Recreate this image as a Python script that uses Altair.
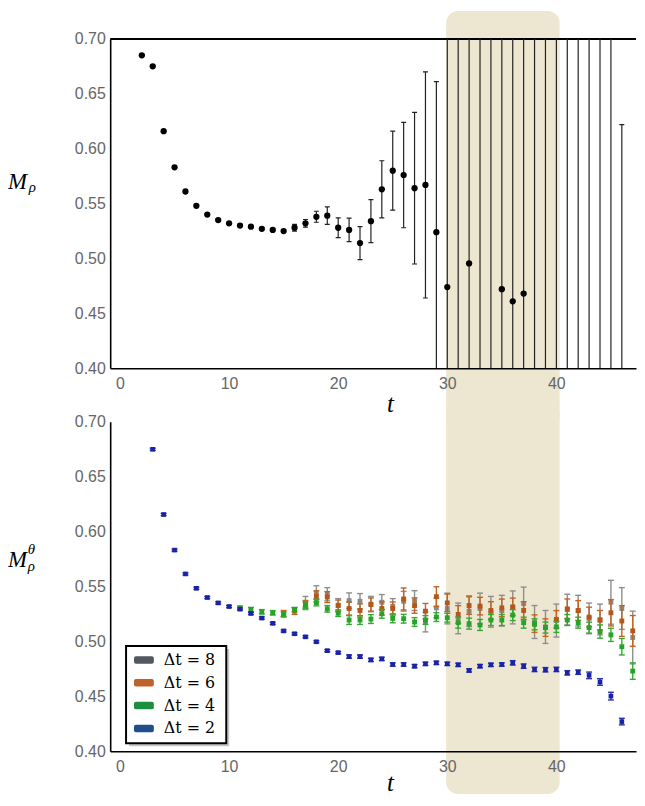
import altair as alt
import pandas as pd

# ---------------- data ----------------
# top panel: M_rho(t)
t_top = list(range(2, 47))
m_top = [0.685, 0.675, 0.616, 0.583, 0.561, 0.548, 0.540, 0.535, 0.532, 0.530,
         0.529, 0.527, 0.526, 0.525, 0.528, 0.532, 0.538, 0.539, 0.528, 0.526,
         0.514, 0.534, 0.563, 0.580, 0.576, 0.564, 0.567, 0.524, 0.474, 0.385,
         0.4955, 0.380, 0.375, 0.472, 0.461, 0.468, 0.370, 0.380, 0.370, 0.360,
         0.370, 0.360, 0.370, 0.370, 0.389]
e_top = [0.001] * 14 + [0.003, 0.0035, 0.005, 0.008, 0.009, 0.0107, 0.015, 0.0196,
                        0.026, 0.036, 0.048, 0.069, 0.103, 0.137, 0.30, 0.40,
                        0.30, 0.40, 0.40, 0.30, 0.30, 0.30] + [0.40] * 8 + [0.233]

# bottom panel: M_rho^theta(t) for several Delta t
t_dt2 = list(range(3, 47))
m_dt2 = [0.675, 0.6156, 0.5832, 0.5615, 0.5484, 0.540, 0.5351, 0.5318, 0.5294, 0.5255,
         0.5213, 0.5165, 0.5096, 0.507, 0.5042, 0.4997, 0.4916, 0.4898, 0.4862, 0.4862,
         0.4832, 0.4841, 0.479, 0.479, 0.4775, 0.4796, 0.4805, 0.4796, 0.4787, 0.4736,
         0.4775, 0.4787, 0.479, 0.4805, 0.4775, 0.4745, 0.4742, 0.4745, 0.4714, 0.472,
         0.4691, 0.4631, 0.4502, 0.427]
e_dt2 = [0.001] * 18 + [0.0015] * 15 + [0.002] * 7 + [0.003, 0.003, 0.0035, 0.003]

t_dt4 = list(range(11, 48))
m_dt4 = [0.5303, 0.529, 0.527, 0.5261, 0.5249, 0.529, 0.5329, 0.5354, 0.5297, 0.5258,
         0.5195, 0.5195, 0.5204, 0.5252, 0.521, 0.5207, 0.5177, 0.5195, 0.5222, 0.5216,
         0.5171, 0.5162, 0.515, 0.5195, 0.5195, 0.524, 0.5171, 0.5156, 0.5126, 0.5132,
         0.5195, 0.5171, 0.5126, 0.509, 0.506, 0.4952, 0.473]
e_dt4 = [0.002] * 6 + [0.003] * 4 + [0.004] * 10 + [0.005] * 13 + [0.006, 0.006, 0.0075, 0.0075]

t_dt6 = list(range(15, 48))
m_dt6 = [0.5252, 0.5276, 0.5343, 0.5411, 0.5404, 0.5327, 0.530, 0.5282, 0.5336, 0.530,
         0.530, 0.5387, 0.5327, 0.5276, 0.5408, 0.5351, 0.5246, 0.5327, 0.5322, 0.5282,
         0.5306, 0.5315, 0.5282, 0.5162, 0.5126, 0.5201, 0.5297, 0.5282, 0.5222, 0.5192,
         0.5261, 0.5186, 0.5096]
e_dt6 = [0.003] * 3 + [0.005] * 3 + [0.006] * 5 + [0.010, 0.007, 0.007, 0.009] + \
        [0.008] * 11 + [0.009] * 4 + [0.012, 0.014, 0.014]

t_dt8 = list(range(17, 48))
m_dt8 = [0.535, 0.5447, 0.543, 0.533, 0.5372, 0.5366, 0.534, 0.5357, 0.532, 0.5366,
         0.5372, 0.5177, 0.5306, 0.530, 0.521, 0.5276, 0.530, 0.527, 0.528, 0.531,
         0.5345, 0.5177, 0.5132, 0.519, 0.529, 0.528, 0.521, 0.520, 0.5357, 0.530,
         0.5036]
e_dt8 = [0.006] * 4 + [0.007] * 5 + [0.009] * 4 + [0.014] * 6 + [0.015] * 5 + \
        [0.014] * 4 + [0.020, 0.019, 0.024]

series_labels = ["Δt = 8", "Δt = 6", "Δt = 4", "Δt = 2"]
series_t = [t_dt8, t_dt6, t_dt4, t_dt2]
series_m = [m_dt8, m_dt6, m_dt4, m_dt2]
series_e = [e_dt8, e_dt6, e_dt4, e_dt2]
marker_colors = ["#8a8a8a", "#b5561a", "#27a327", "#1a22a8"]
bar_colors = ["#8e8e8e", "#c2651f", "#33aa33", "#2a32b0"]
legend_colors = ["#53575f", "#c0602a", "#1e8f3e", "#1f4f8b"]

band_t = [29.9, 40.3]
x_ticks = [0, 10, 20, 30, 40]
y_ticks = [0.40, 0.45, 0.50, 0.55, 0.60, 0.65, 0.70]
x_domain = [-0.9, 47.3]
y_domain = [0.40, 0.70]

# ---------------- styling ----------------
W, H = 530, 332
GAP = 54
BAND = "#ede6d0"
LABEL_FONT = "Liberation Sans"
SERIF = "Liberation Serif"
PATH = ("M-0.8,-0.38L0.8,-0.38Q1,-0.38 1,-0.18L1,0.18Q1,0.38 0.8,0.38"
        "L-0.8,0.38Q-1,0.38 -1,0.18L-1,-0.18Q-1,-0.38 -0.8,-0.38Z")

xs = alt.Scale(domain=x_domain, nice=False, zero=False)
ys = alt.Scale(domain=y_domain, nice=False, zero=False)


def x_axis(title_y):
    return alt.Axis(values=x_ticks, title="t", titleFont=SERIF, titleFontStyle="italic",
                    titleFontSize=25, titleFontWeight="normal", titleColor="black",
                    titleX=282, titleY=title_y, titleBaseline="alphabetic", titleAlign="center",
                    labelFont=LABEL_FONT, labelFontSize=16, labelColor="#666",
                    labelPadding=7, ticks=False, grid=False, domainColor="black",
                    domainWidth=1.6, zindex=1, labelFlush=False)


y_axis = alt.Axis(values=y_ticks, format=".2f", title=None, labelFont=LABEL_FONT,
                  labelFontSize=16, labelColor="#666", labelPadding=5, ticks=False,
                  grid=False, domainColor="black", domainWidth=1.6, zindex=1)


def err_df(ts, ms, es):
    return pd.DataFrame({"t": ts, "m": ms,
                         "lo": [m - e for m, e in zip(ms, es)],
                         "hi": [m + e for m, e in zip(ms, es)]})


def text_layer(txt, x, y, size, style="italic"):
    return alt.Chart(pd.DataFrame({"txt": [txt]})).mark_text(
        font=SERIF, fontSize=size, fontStyle=style, align="left",
        baseline="alphabetic", color="black").encode(
        x=alt.value(x), y=alt.value(y), text="txt:N")


def band_layer(xax, y0, y1):
    return alt.Chart(pd.DataFrame({"x0": [band_t[0]], "x1": [band_t[1]]})).mark_rect(
        color=BAND, cornerRadius=12).encode(
        x=alt.X("x0:Q", scale=xs, axis=xax), x2="x1:Q",
        y=alt.value(y0), y2=alt.value(y1))


# ---------------- top panel ----------------
xax_top = x_axis(44)
dtop = err_df(t_top, m_top, e_top)
top_base = alt.Chart(dtop)
X_top = alt.X("t:Q", scale=xs, axis=xax_top)

top = alt.layer(
    band_layer(xax_top, -28, 392),
    alt.Chart(pd.DataFrame({"v": [0.70]})).mark_rule(color="black", strokeWidth=2).encode(
        y=alt.Y("v:Q", scale=ys, axis=y_axis)),
    top_base.mark_rule(color="#222", strokeWidth=1.2, clip=True).encode(
        x=X_top, y=alt.Y("lo:Q", scale=ys, axis=y_axis), y2="hi:Q"),
    top_base.mark_tick(orient="horizontal", size=5, thickness=1.2, color="#222",
                       opacity=1, clip=True).encode(
        x=X_top, y=alt.Y("lo:Q", scale=ys, axis=y_axis)),
    top_base.mark_tick(orient="horizontal", size=5, thickness=1.2, color="#222",
                       opacity=1, clip=True).encode(
        x=X_top, y=alt.Y("hi:Q", scale=ys, axis=y_axis)),
    top_base.mark_circle(size=40, color="black", opacity=1, clip=True).encode(
        x=X_top, y=alt.Y("m:Q", scale=ys, axis=y_axis)),
    text_layer("M", -103, 151, 23),
    text_layer("ρ", -82, 154, 15),
).properties(width=W, height=H)

# ---------------- bottom panel ----------------
xax_bot = x_axis(40)
X_bot = alt.X("t:Q", scale=xs, axis=xax_bot)

all_rows = []
for lab, ts, ms in zip(series_labels, series_t, series_m):
    for t, m in zip(ts, ms):
        all_rows.append({"series": lab, "t": t, "m": m})
all_df = pd.DataFrame(all_rows)

one = pd.DataFrame({"k": [0]})
bottom_layers = [
    band_layer(xax_bot, -20, 375),
    alt.Chart(one).mark_rect(fill="#9a9a9a", opacity=0.55).encode(
        x=alt.value(19), x2=alt.value(120), y=alt.value(229), y2=alt.value(327)),
    alt.Chart(one).mark_rect(fill="white", stroke="black", strokeWidth=2).encode(
        x=alt.value(16), x2=alt.value(117), y=alt.value(226), y2=alt.value(324)),
    alt.Chart(all_df).mark_point(filled=True, size=5, opacity=1).encode(
        x=X_bot, y=alt.Y("m:Q", scale=ys, axis=y_axis),
        fill=alt.Fill("series:N",
                      scale=alt.Scale(domain=series_labels, range=legend_colors),
                      legend=alt.Legend(title=None, orient="none", legendX=24,
                                        legendY=230 + H + GAP,
                                        symbolType=PATH, symbolSize=400,
                                        symbolStrokeWidth=0, symbolOpacity=1,
                                        labelFont="DejaVu Serif", labelFontSize=16,
                                        labelColor="black", labelOffset=10,
                                        rowPadding=5, padding=0, labelLimit=200))),
]

for lab, ts, ms, es, mc, bc in zip(series_labels, series_t, series_m, series_e,
                                   marker_colors, bar_colors):
    d = alt.Chart(err_df(ts, ms, es))
    size = 22 if lab == "Δt = 2" else 24
    bottom_layers += [
        d.mark_rule(color=bc, strokeWidth=1.4).encode(
            x=X_bot, y=alt.Y("lo:Q", scale=ys, axis=y_axis), y2="hi:Q"),
        d.mark_tick(orient="horizontal", size=6, thickness=1.4, color=bc, opacity=1).encode(
            x=X_bot, y=alt.Y("lo:Q", scale=ys, axis=y_axis)),
        d.mark_tick(orient="horizontal", size=6, thickness=1.4, color=bc, opacity=1).encode(
            x=X_bot, y=alt.Y("hi:Q", scale=ys, axis=y_axis)),
        d.mark_point(filled=True, shape="square", size=size, color=mc, opacity=1).encode(
            x=X_bot, y=alt.Y("m:Q", scale=ys, axis=y_axis)),
    ]

bottom_layers += [
    text_layer("M", -103, 146, 23),
    text_layer("θ", -83, 133, 15),
    text_layer("ρ", -83, 150, 15),
]

bottom = alt.layer(*bottom_layers).properties(width=W, height=H)

chart = alt.vconcat(top, bottom, spacing=GAP, bounds="flush").properties(
    padding=0
).configure_view(stroke=None)

chart.save("out.html", embed_options={"renderer": "svg", "actions": False})
